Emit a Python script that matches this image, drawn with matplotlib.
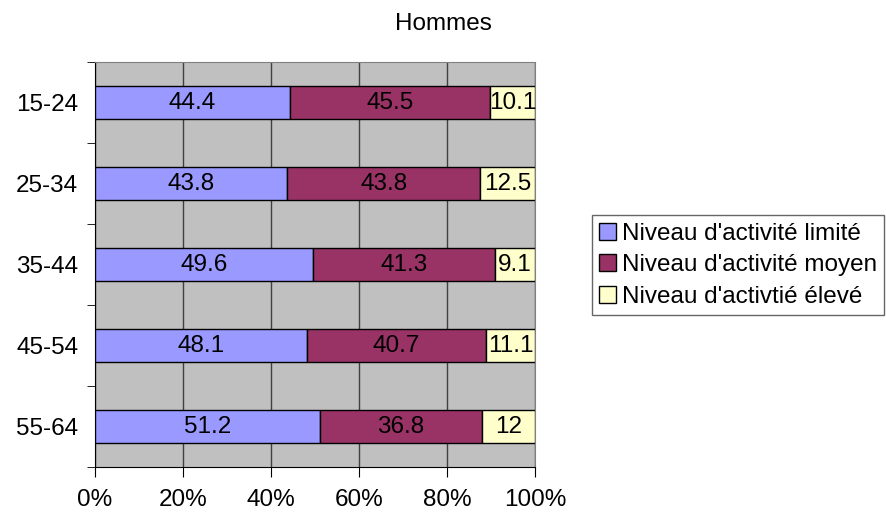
import numpy as np
import matplotlib.pyplot as plt
from matplotlib.patches import Patch

plt.rcParams['font.family'] = ['Liberation Sans', 'DejaVu Sans']
plt.rcParams['font.size'] = 17.5

categories = ['15-24', '25-34', '35-44', '45-54', '55-64']
limite = [44.4, 43.8, 49.6, 48.1, 51.2]
moyen = [45.5, 43.8, 41.3, 40.7, 36.8]
eleve = [10.1, 12.5, 9.1, 11.1, 12]
labels = ["Niveau d'activité limité", "Niveau d'activité moyen", "Niveau d'activtié élevé"]
colors = ['#9999FF', '#993366', '#FFFFCC']

series = np.array([limite, moyen, eleve], dtype=float)
shares = series / series.sum(axis=0) * 100

fig = plt.figure(figsize=(8.87, 5.19), dpi=100)
ax = fig.add_axes([0.107, 0.1, 0.496, 0.7805])
ax.set_facecolor('#C0C0C0')

y = np.arange(len(categories))
left = np.zeros(len(categories))
for vals, share, color, lab in zip(series, shares, colors, labels):
    bars = ax.barh(y, share, left=left, height=0.41, color=color,
                   edgecolor='black', linewidth=1, zorder=3, label=lab)
    for b, v in zip(bars, vals):
        ax.text(b.get_x() + b.get_width() / 2, b.get_y() + b.get_height() / 2,
                f'{v:g}', ha='center', va='center', zorder=4)
    left += share

ax.set_xlim(0, 100)
ax.set_ylim(len(categories) - 0.5, -0.5)
ax.set_xticks(np.arange(0, 101, 20))
ax.set_xticklabels([f'{t}%' for t in range(0, 101, 20)])
ax.set_yticks(y)
ax.set_yticklabels(categories)
ax.set_yticks(np.arange(-0.5, len(categories), 1), minor=True)
ax.tick_params(axis='y', which='major', length=0, pad=12)
ax.tick_params(axis='y', which='minor', length=6, direction='out')
ax.tick_params(axis='x', length=7, direction='out', pad=9)
ax.grid(axis='x', color='#404040', linewidth=1, zorder=1)

for s in ['top', 'right']:
    ax.spines[s].set_color('#808080')
for s in ['left', 'bottom']:
    ax.spines[s].set_color('black')

fig.suptitle('Hommes', x=0.5, y=0.975, fontsize=17.5)

handles = [Patch(facecolor=c, edgecolor='black', label=l) for c, l in zip(colors, labels)]
leg = fig.legend(handles=handles, loc='upper left', bbox_to_anchor=(0.667, 0.585),
                 frameon=True, fancybox=False, edgecolor='#404040',
                 handlelength=0.7, handleheight=0.7, handletextpad=0.25,
                 labelspacing=0.4, borderpad=0.3, borderaxespad=0)
leg.get_frame().set_linewidth(1)

fig.savefig('out.png', dpi=100)
